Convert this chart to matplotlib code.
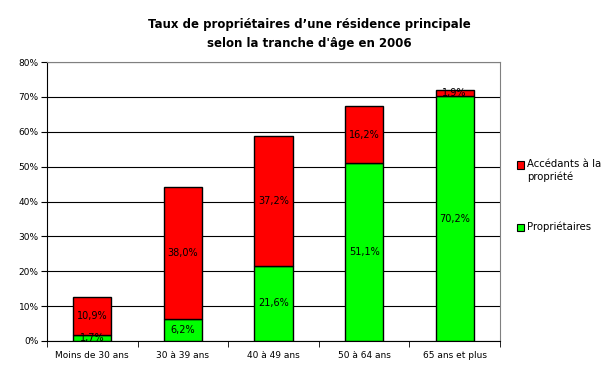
import matplotlib
matplotlib.use("Agg")
import matplotlib.pyplot as plt
from matplotlib.patches import Rectangle
import numpy as np

categories = ["Moins de 30 ans", "30 à 39 ans", "40 à 49 ans", "50 à 64 ans", "65 ans et plus"]
proprietaires = [1.7, 6.2, 21.6, 51.1, 70.2]
accedants = [10.9, 38.0, 37.2, 16.2, 1.9]
yticks = [0, 10, 20, 30, 40, 50, 60, 70, 80]
green = "#00FF00"
red = "#FF0000"

plt.rcParams['font.family'] = ['DejaVu Sans']
fig = plt.figure(figsize=(6.15, 3.81), dpi=100)
ax = fig.add_axes([47/615, 40/381, 453/615, 279/381])

x = np.arange(len(categories))
w = 0.42
ax.bar(x, proprietaires, w, color=green, edgecolor="black", linewidth=1, zorder=3)
ax.bar(x, accedants, w, bottom=proprietaires, color=red, edgecolor="black", linewidth=1, zorder=3)

for i in range(len(categories)):
    ax.text(x[i], proprietaires[i] / 2, f"{proprietaires[i]:.1f}%".replace(".", ","),
            ha="center", va="center", fontsize=7, zorder=4)
    ax.text(x[i], proprietaires[i] + accedants[i] / 2, f"{accedants[i]:.1f}%".replace(".", ","),
            ha="center", va="center", fontsize=7, zorder=4)

ax.set_xlim(-0.5, len(categories) - 0.5)
ax.set_ylim(0, 80)
ax.set_yticks(yticks)
ax.set_yticklabels([f"{t}%" for t in yticks], fontsize=6.5)
ax.set_xticks(x)
ax.set_xticklabels(categories, fontsize=6.5)
ax.tick_params(axis="x", length=0, pad=7)
ax.set_xticks(np.arange(len(categories) + 1) - 0.5, minor=True)
ax.tick_params(axis="x", which="minor", length=4, direction="out")
ax.tick_params(axis="y", length=4, direction="out", pad=2)
ax.yaxis.grid(True, color="black", linewidth=0.8, zorder=0)
for s in ["top", "right"]:
    ax.spines[s].set_color("#808080")
ax.spines["left"].set_color("black")
ax.spines["bottom"].set_color("black")

# Legend drawn manually (px coords from top-left)
def px(xp, yp):
    return xp / 615, 1 - yp / 381

for (label, color, ysq) in [("Accédants à la\npropriété", red, 165), ("Propriétaires", green, 228)]:
    x0, y0 = px(517, ysq + 3.5)
    fig.patches.append(Rectangle((x0, y0), 7/615, 7/381, transform=fig.transFigure,
                                 facecolor=color, edgecolor="black", linewidth=0.8))
    tx, ty = px(527, ysq - 6)
    fig.text(tx, ty, label, ha="left", va="top", fontsize=7.3, linespacing=1.25)

fig.text(0.503, 1 - 34/381, "Taux de propriétaires d\u2019une résidence principale\nselon la tranche d'âge en 2006",
         ha="center", va="center", fontsize=8.5, fontweight="bold", linespacing=1.6)

fig.savefig("out.png", dpi=100)
